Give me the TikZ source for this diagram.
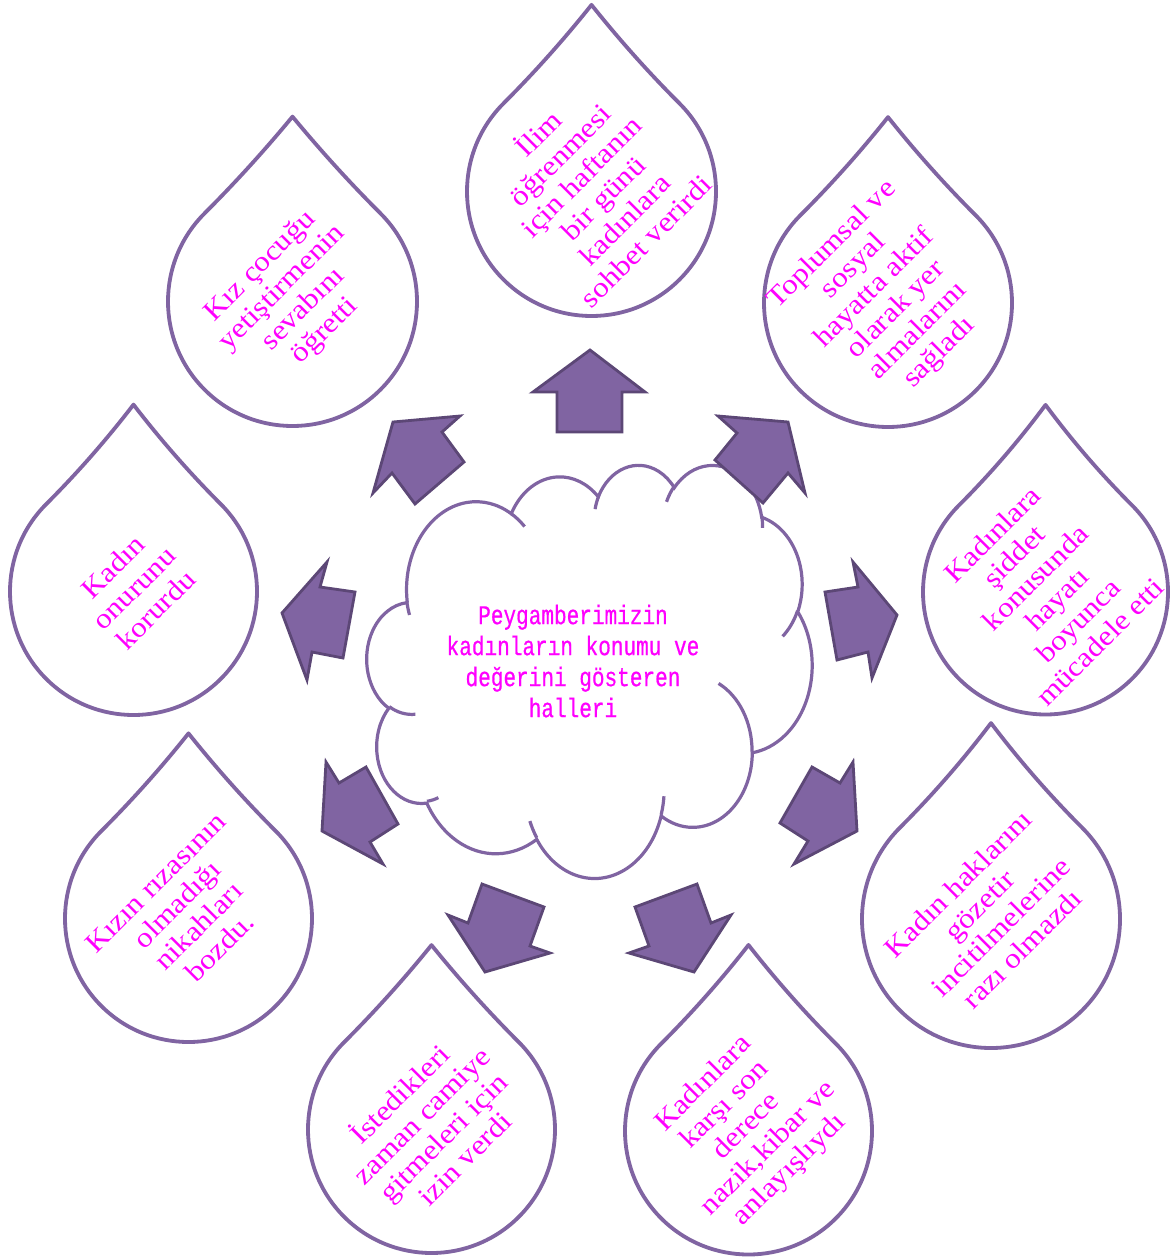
\documentclass[tikz,border=0pt]{standalone}
\usepackage{fontspec}
\setmainfont[FakeStretch=1.12]{Liberation Serif}
\newfontfamily\cloudfont[FakeStretch=0.78,FakeBold=0.6]{Liberation Mono}
\definecolor{dropline}{HTML}{8064A2}
\definecolor{arrowfill}{HTML}{8064A2}
\definecolor{arrowline}{HTML}{5C4776}
\definecolor{txtcol}{HTML}{FF00FF}
\tikzset{
  dropstyle/.style={draw=dropline, line width=1.9pt, fill=white, line join=round},
  cloudstyle/.style={draw=dropline, line width=1.6pt},
  blockarrow/.style={fill=arrowfill, draw=arrowline, line width=1.4pt, line join=miter},
  droptext/.style={text=txtcol, align=center, rotate=45, inner sep=0pt,
    font=\fontsize{14}{15.2}\selectfont},
  centertext/.style={text=txtcol, align=center, inner sep=0pt,
    font=\cloudfont\fontsize{13.5}{15.5}\selectfont}
}
% teardrop: cx, cy, r, a
\newcommand\dropshape[4]{%
  \begin{scope}[shift={(#1,#2)},rotate=45]
    \draw[dropstyle] (0,-#3)
      .. controls ({#3*#4/3},-#3) and ({2*#3*#4/3},{-(#3*#4/3+2*#3/3)}) .. ({#3*#4},{-#3*#4})
      .. controls ({#3*#4/3+2*#3/3},{-2*#3*#4/3}) and (#3,{-#3*#4/3}) .. (#3,0)
      arc[start angle=0,end angle=270,radius=#3] -- cycle;
  \end{scope}}
% OOXML arcTo -> parametric angles
\newcommand\cloudarc[5]{%
  \pgfmathsetmacro\cloudtmpS{atan2((#2)*sin(#4),(#3)*cos(#4))}%
  \pgfmathsetmacro\cloudtmpE{atan2((#2)*sin((#4)+(#5)),(#3)*cos((#4)+(#5)))}%
  \pgfmathsetmacro\cloudtmpD{mod(\cloudtmpE-\cloudtmpS+720,360)}%
  \expandafter\xdef\csname ca#1s\endcsname{\cloudtmpS}%
  \expandafter\xdef\csname ca#1d\endcsname{\cloudtmpD}%
}
\begin{document}
\begin{tikzpicture}[x=0.5pt,y=-0.5pt]
\useasboundingbox (0,0) rectangle (1172,1258);
\fill[white] (0,0) rectangle (1172,1258);

% drops
\dropshape{591.5}{191.5}{124.5}{1.06}
\dropshape{292.5}{301.5}{124.5}{1.05}
\dropshape{888}{303}{124}{1.06}
\dropshape{133.5}{591.5}{123.5}{1.07}
\dropshape{1045.5}{592}{122.5}{1.08}
\dropshape{188.5}{918.5}{123.5}{1.06}
\dropshape{991}{919}{129}{1.074}
\dropshape{431.5}{1129.5}{123.5}{1.056}
\dropshape{748.5}{1131}{123.5}{1.065}

% cloud
\cloudarc{A}{67.53}{91.90}{-190.4875}{123.7805}
\cloudarc{B}{53.33}{72.67}{-144.1024}{89.9452}
\cloudarc{C}{43.65}{59.45}{-145.8079}{99.7230}
\cloudarc{D}{48.57}{65.95}{-130.9861}{117.2417}
\cloudarc{E}{53.33}{72.73}{-78.7089}{109.0269}
\cloudarc{F}{67.75}{92.20}{-46.2673}{130.2690}
\cloudarc{G}{57.85}{78.67}{0.6250}{114.0333}
\cloudarc{H}{67.52}{92.15}{22.4516}{115.1726}
\cloudarc{I}{77.20}{105.43}{66.2426}{75.7110}
\cloudarc{J}{43.60}{59.18}{-274.9421}{146.7356}
\cloudarc{K}{43.45}{59.45}{-246.8285}{152.5189}
\cloudarc{a}{43.45}{59.45}{86.7420}{26.4295}
\cloudarc{b}{43.60}{59.18}{73.6105}{11.4475}
\cloudarc{c}{67.52}{92.15}{137.6242}{14.0811}
\cloudarc{d}{67.52}{92.15}{6.4533}{15.9984}
\cloudarc{e}{57.85}{78.67}{-70.2924}{70.9174}
\cloudarc{f}{53.33}{72.73}{30.3180}{27.7515}
\cloudarc{g}{48.57}{65.95}{-13.7443}{14.8589}
\cloudarc{h}{48.57}{65.95}{-149.1815}{18.1954}
\cloudarc{i}{43.65}{59.45}{-163.4943}{17.6864}
\cloudarc{j}{67.53}{91.90}{-66.7070}{12.3194}
\cloudarc{k}{67.53}{91.90}{155.1148}{11.8540}
\begin{scope}[shift={(367,464)}, x=0.51505pt, y=-0.47801pt]
  \filldraw[cloudstyle, fill=white] (39.00,143.70)
    arc[start angle=\caAs, delta angle=\caAd, x radius=67.53, y radius=91.90]
    arc[start angle=\caBs, delta angle=\caBd, x radius=53.33, y radius=72.67]
    arc[start angle=\caCs, delta angle=\caCd, x radius=43.65, y radius=59.45]
    arc[start angle=\caDs, delta angle=\caDd, x radius=48.57, y radius=65.95]
    arc[start angle=\caEs, delta angle=\caEd, x radius=53.33, y radius=72.73]
    arc[start angle=\caFs, delta angle=\caFd, x radius=67.75, y radius=92.20]
    arc[start angle=\caGs, delta angle=\caGd, x radius=57.85, y radius=78.67]
    arc[start angle=\caHs, delta angle=\caHd, x radius=67.52, y radius=92.15]
    arc[start angle=\caIs, delta angle=\caId, x radius=77.20, y radius=105.43]
    arc[start angle=\caJs, delta angle=\caJd, x radius=43.60, y radius=59.18]
    arc[start angle=\caKs, delta angle=\caKd, x radius=43.45, y radius=59.45]
    -- cycle;
  \draw[cloudstyle]
    (46.93,261.77) arc[start angle=\caas, delta angle=\caad, x radius=43.45, y radius=59.45]
    (69.28,348.99) arc[start angle=\cabs, delta angle=\cabd, x radius=43.60, y radius=59.18]
    (164.78,390.90) arc[start angle=\cacs, delta angle=\cacd, x radius=67.52, y radius=92.15]
    (288.27,347.51) arc[start angle=\cads, delta angle=\cadd, x radius=67.52, y radius=92.15]
    (341.29,229.54) arc[start angle=\caes, delta angle=\caed, x radius=57.85, y radius=78.67]
    (417.98,153.54) arc[start angle=\cafs, delta angle=\cafd, x radius=53.33, y radius=72.73]
    (383.24,54.26) arc[start angle=\cags, delta angle=\cagd, x radius=48.57, y radius=65.95]
    (290.78,39.52) arc[start angle=\cahs, delta angle=\cahd, x radius=48.57, y radius=65.95]
    (221.41,47.20) arc[start angle=\cais, delta angle=\caid, x radius=43.65, y radius=59.45]
    (140.00,51.92) arc[start angle=\cajs, delta angle=\cajd, x radius=67.53, y radius=91.90]
    (41.27,157.89) arc[start angle=\caks, delta angle=\cakd, x radius=67.53, y radius=91.90];
\end{scope}

% block arrows
\draw[blockarrow] (590,350) -- (645,392) -- (622,392) -- (622,432) -- (557,432) -- (557,392) -- (533,392) -- cycle;
\draw[blockarrow] (393,422) -- (460,416) -- (442,432) -- (464,462) -- (415,504) -- (392,473) -- (373,493) -- cycle;
\draw[blockarrow] (788,422) -- (805,493) -- (788,473) -- (763,503) -- (715,460) -- (737,433) -- (718,416) -- cycle;
\draw[blockarrow] (282,613) -- (327,562) -- (320,587) -- (355,592) -- (343,658) -- (312,652) -- (307,680) -- cycle;
\draw[blockarrow] (897,615) -- (853,562) -- (858,587) -- (825,592) -- (837,660) -- (868,652) -- (872,678) -- cycle;
\draw[blockarrow] (322,831) -- (383,864) -- (370,842) -- (398,824) -- (366,767) -- (339,783) -- (326,762) -- cycle;
\draw[blockarrow] (857,831) -- (794,864) -- (808,841) -- (780,823) -- (812,767) -- (840,783) -- (853,762) -- cycle;
\draw[blockarrow] (485,972) -- (550,953) -- (530,946) -- (544,907) -- (482,884) -- (468,923) -- (448,915) -- cycle;
\draw[blockarrow] (694,972) -- (629,953) -- (649,946) -- (635,907) -- (697,884) -- (711,923) -- (731,915) -- cycle;

% texts
\node[centertext] (center) at (573,661) {Peygamberimizin\\kadınların konumu ve\\değerini gösteren\\halleri};
\node[droptext] (t1) at (591,186) {İlim\\öğrenmesi\\için haftanın\\bir günü\\kadınlara\\sohbet verirdi};
\node[droptext] (t2) at (293,299) {Kız çocuğu\\yetiştirmenin\\sevabını\\öğretti};
\node[droptext] (t3) at (886,299) {Toplumsal ve\\sosyal\\hayatta aktif\\olarak yer\\almalarını\\sağladı};
\node[droptext] (t4) at (134,588) {Kadın\\onurunu\\korurdu};
\node[droptext] (t5) at (1046,588) {Kadınlara\\şiddet\\konusunda\\hayatı\\boyunca\\mücadele etti};
\node[droptext] (t6) at (188,915) {Kızın rızasının\\olmadığı\\nikahları\\bozdu.};
\node[droptext] (t7) at (990,916) {Kadın haklarını\\gözetir\\incitilmelerine\\razı olmazdı};
\node[droptext] (t8) at (431,1125) {İstedikleri\\zaman camiye\\gitmeleri için\\izin verdi};
\node[droptext] (t9) at (747,1127) {Kadınlara\\karşı son\\derece\\nazik,kibar ve\\anlayışlıydı};
\end{tikzpicture}
\end{document}
